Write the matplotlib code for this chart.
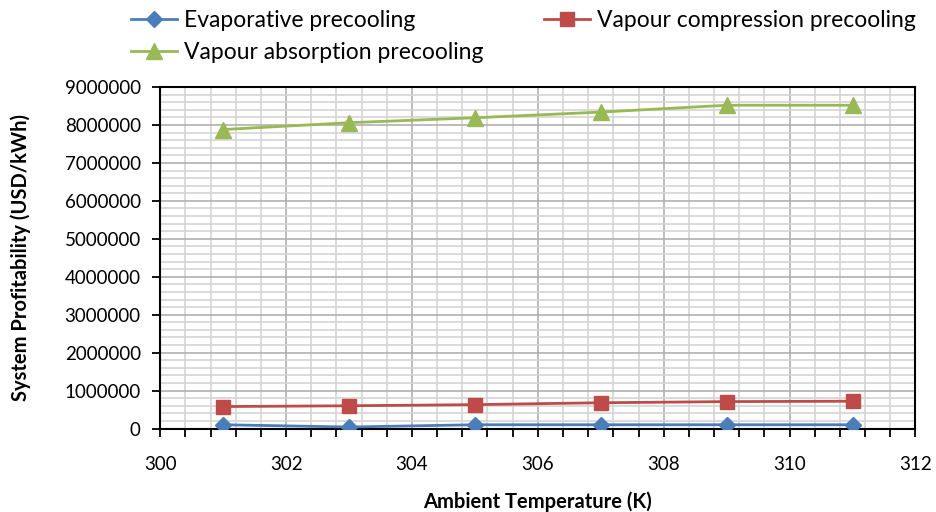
import matplotlib.pyplot as plt
from matplotlib.ticker import MultipleLocator

plt.rcParams['font.family'] = ['Lato', 'DejaVu Sans']

temperature = [301, 303, 305, 307, 309, 311]
evaporative = [100000, 40000, 100000, 100000, 100000, 100000]
vapour_compression = [580000, 600000, 630000, 680000, 710000, 720000]
vapour_absorption = [7880000, 8060000, 8190000, 8340000, 8520000, 8520000]

fig = plt.figure(figsize=(9.37, 5.12), dpi=100)
ax = fig.add_axes([0.171, 0.163, 0.806, 0.667])

l1, = ax.plot(temperature, evaporative, color='#4a7ebb', marker='D', markersize=8,
              linewidth=2, label='Evaporative precooling', zorder=3)
l2, = ax.plot(temperature, vapour_compression, color='#be4b48', marker='s', markersize=10,
              linewidth=2, label='Vapour compression precooling', zorder=3)
l3, = ax.plot(temperature, vapour_absorption, color='#98b954', marker='^', markersize=11,
              linewidth=2, label='Vapour absorption precooling', zorder=3)

ax.set_xlim(300, 312)
ax.set_ylim(0, 9000000)
ax.xaxis.set_major_locator(MultipleLocator(2))
ax.xaxis.set_minor_locator(MultipleLocator(0.4))
ax.yaxis.set_major_locator(MultipleLocator(1000000))
ax.yaxis.set_minor_locator(MultipleLocator(200000))
ax.yaxis.set_major_formatter(plt.FuncFormatter(lambda v, p: '%d' % v))

ax.grid(which='major', color='#b0b0b0', linewidth=1.2)
ax.grid(which='minor', color='#d4d4d4', linewidth=1.2)
ax.set_axisbelow(True)

ax.tick_params(axis='both', which='major', length=6, width=1.3, labelsize=13.5, direction='out')
ax.tick_params(axis='x', which='major', pad=14)
ax.tick_params(axis='y', which='major', pad=8)
ax.tick_params(axis='x', which='minor', length=6, width=1.3, direction='out')
ax.tick_params(axis='y', which='minor', length=0)
for s in ax.spines.values():
    s.set_linewidth(1.5)
    s.set_color('black')

ax.set_xlabel('Ambient Temperature (K)', fontsize=14.5, fontweight='bold')
ax.set_ylabel('System Profitability (USD/kWh)', fontsize=14.5, fontweight='bold')
ax.xaxis.set_label_coords(0.5, -0.185)
ax.yaxis.set_label_coords(-0.171, 0.5)

fig.legend([l1, l3, l2], [l1.get_label(), l3.get_label(), l2.get_label()],
           loc='upper left', bbox_to_anchor=(0.118, 1.02), ncol=2, frameon=False,
           fontsize=16.5, columnspacing=2.65, handlelength=2.0, handletextpad=0.3,
           labelspacing=0.45)

fig.savefig('out.png', dpi=100)
